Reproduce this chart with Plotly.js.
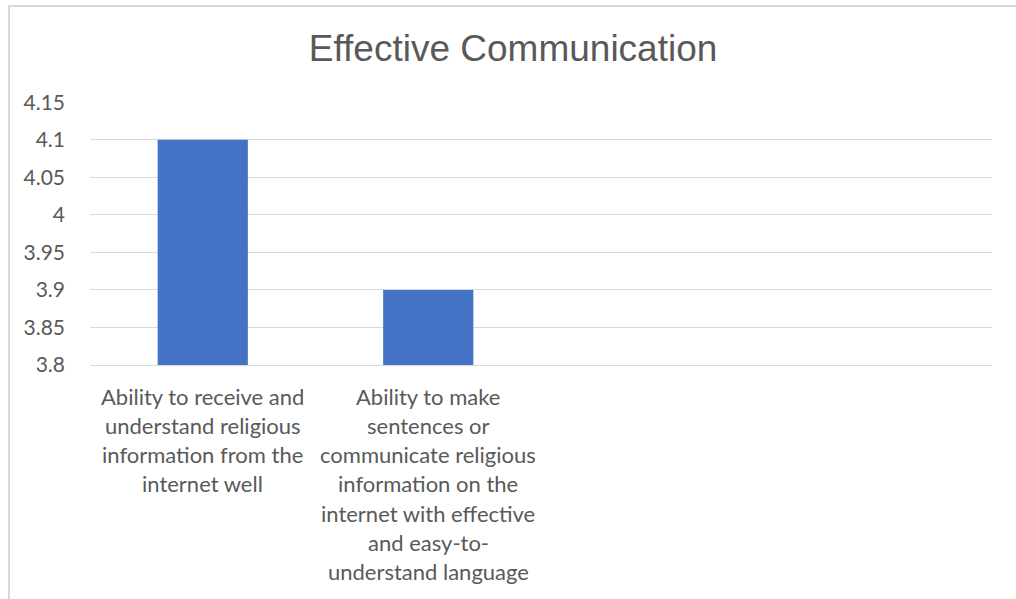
<!DOCTYPE html>
<html>
<head>
<meta charset="utf-8">
<script src="https://cdn.plot.ly/plotly-3.0.1.min.js"></script>
<style>
  html, body { margin: 0; padding: 0; background: #ffffff; }
  #wrap { position: relative; width: 1016px; height: 599px; overflow: hidden; }
  #frame { position: absolute; left: 8px; top: 5px; width: 1100px; height: 700px;
           border-left: 2px solid #d9d9d9; border-top: 2px solid #d9d9d9; box-sizing: border-box; pointer-events: none; }
  #chart { position: absolute; left: 0; top: 0; width: 1016px; height: 599px; }
</style>
</head>
<body>
<div id="wrap">
  <div id="chart"></div>
  <div id="frame"></div>
</div>
<script>
// Data
const categories = [
  "Ability to receive and understand religious information from the internet well",
  "Ability to make sentences or communicate religious information on the internet with effective and easy-to-understand language",
  " ",
  "  "
];
const values = [4.1, 3.9, null, null];
const labelLines = [
  ["Ability to receive and", "understand religious", "information from the", "internet well"],
  ["Ability to make", "sentences or", "communicate religious", "information on the", "internet with effective", "and easy-to-", "understand language"]
];
const yTicks = [3.8, 3.85, 3.9, 3.95, 4, 4.05, 4.1, 4.15];
const yTickText = ["3.8", "3.85", "3.9", "3.95", "4", "4.05", "4.1", "4.15"];

const textColor = "#595959";
const font = "Lato, sans-serif";

const annotations = [];
labelLines.forEach((lines, ci) => {
  lines.forEach((ln, li) => {
    annotations.push({
      x: categories[ci], xref: "x",
      y: 0, yref: "paper",
      yanchor: "middle",
      yshift: -31 - li * 29.3,
      text: ln, showarrow: false,
      font: { family: font, size: 22, color: textColor }
    });
  });
});

const trace = {
  type: "bar",
  x: categories,
  y: values,
  base: 0,
  marker: { color: "#4472C4" },
  hoverinfo: "x+y"
};

const layout = {
  width: 1016, height: 599,
  margin: { l: 90, r: 24, t: 102, b: 234 },
  paper_bgcolor: "#ffffff",
  plot_bgcolor: "#ffffff",
  showlegend: false,
  bargap: 0.6,
  title: {
    text: "Effective Communication",
    font: { family: "Liberation Sans Narrow, Liberation Sans, sans-serif", size: 37, color: textColor },
    x: 0.505, xanchor: "center",
    y: 0.92, yanchor: "middle", yref: "container"
  },
  xaxis: {
    type: "category",
    categoryorder: "array",
    categoryarray: categories,
    showticklabels: false,
    ticks: "",
    showgrid: false,
    showline: true, linecolor: "#d9d9d9", linewidth: 1,
    fixedrange: true
  },
  yaxis: {
    range: [3.8, 4.1503],
    tickvals: yTicks,
    ticktext: yTickText,
    showgrid: true, gridcolor: "#d9d9d9", gridwidth: 1,
    zeroline: false, showline: false, ticks: "",
    ticklabelstandoff: 24,
    tickfont: { family: font, size: 21, color: textColor },
    fixedrange: true
  },
  annotations: annotations
};

Plotly.newPlot("chart", [trace], layout, { displayModeBar: false, staticPlot: true });
</script>
</body>
</html>
